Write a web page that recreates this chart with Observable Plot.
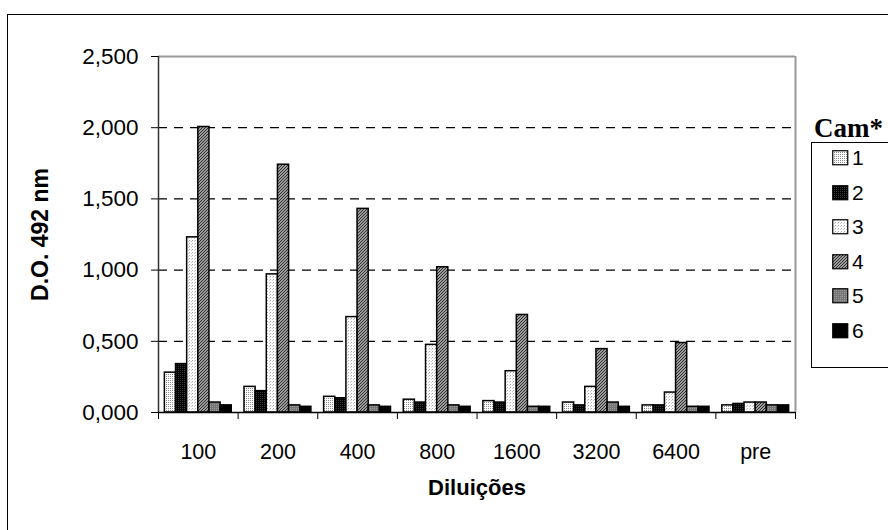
<!DOCTYPE html>
<html>
<head>
<meta charset="utf-8">
<script src="https://cdn.jsdelivr.net/npm/d3@7"></script>
<script src="https://cdn.jsdelivr.net/npm/@observablehq/plot@0.6"></script>
<style>
  html, body { margin: 0; padding: 0; background: #fff; overflow: hidden; }
  #wrap { position: relative; width: 888px; height: 530px; overflow: hidden; font-family: "Liberation Sans", Arial, sans-serif; }
  #border { position: absolute; left: 7px; top: 14px; width: 1000px; height: 1000px; border: 1.5px solid #000; box-sizing: border-box; }
  #chart { position: absolute; left: 0; top: 0; }
  #legendTitle { position: absolute; left: 814px; top: 113px; font-family: "Liberation Serif", "Times New Roman", serif; font-weight: bold; font-size: 27px; line-height: 30px; }
  #legend { position: absolute; left: 811px; top: 142px; width: 120px; height: 226px; border: 1.2px solid #000; background: #fff; box-sizing: border-box; }
  .item { position: absolute; left: 20px; height: 24px; display: flex; align-items: center; font-size: 21px; }
  .item svg { margin-right: 3px; }
</style>
</head>
<body>
<svg width="0" height="0" style="position:absolute">
  <defs>
    <pattern id="p1" width="2" height="2" patternUnits="userSpaceOnUse">
      <rect width="2" height="2" fill="#fff"/><rect width="1" height="1" fill="#8c8c8c"/>
    </pattern>
    <pattern id="p2" width="2" height="2" patternUnits="userSpaceOnUse">
      <rect width="2" height="2" fill="#000"/><rect width="1" height="1" fill="#3a3a3a"/>
    </pattern>
    <pattern id="p3" width="3" height="3" patternUnits="userSpaceOnUse">
      <rect width="3" height="3" fill="#fff"/><rect width="1" height="1" fill="#aaa"/><rect x="2" y="1" width="1" height="1" fill="#ccc"/>
    </pattern>
    <pattern id="p4" width="3" height="3" patternUnits="userSpaceOnUse">
      <rect width="3" height="3" fill="#c8c8c8"/><path d="M-1,1 L1,-1 M0,3 L3,0 M2,4 L4,2" stroke="#2a2a2a" stroke-width="1.1"/>
    </pattern>
    <pattern id="p5" width="2" height="2" patternUnits="userSpaceOnUse">
      <rect width="2" height="2" fill="#767676"/><rect width="1" height="1" fill="#9c9c9c"/>
    </pattern>
    <pattern id="p6" width="2" height="2" patternUnits="userSpaceOnUse">
      <rect width="2" height="2" fill="#000"/>
    </pattern>
  </defs>
</svg>
<div id="wrap">
  <div id="border"></div>
  <div id="chart"></div>
  <div id="legendTitle">Cam*</div>
  <div id="legend"></div>
</div>
<script>
// ---- data ----
const dilutions = ["100", "200", "400", "800", "1600", "3200", "6400", "pre"];
const cams = ["1", "2", "3", "4", "5", "6"];
const cam1 = [0.28, 0.18, 0.11, 0.09, 0.08, 0.07, 0.05, 0.05];
const cam2 = [0.34, 0.15, 0.10, 0.07, 0.07, 0.05, 0.05, 0.06];
const cam3 = [1.23, 0.97, 0.67, 0.475, 0.29, 0.18, 0.14, 0.07];
const cam4 = [2.005, 1.74, 1.43, 1.02, 0.685, 0.445, 0.488, 0.07];
const cam5 = [0.07, 0.05, 0.05, 0.05, 0.04, 0.07, 0.04, 0.05];
const cam6 = [0.05, 0.04, 0.04, 0.04, 0.04, 0.04, 0.04, 0.05];
const yTicks = [0, 0.5, 1.0, 1.5, 2.0, 2.5];
const patterns = ["url(#p1)", "url(#p2)", "url(#p3)", "url(#p4)", "url(#p5)", "url(#p6)"];

const seriesValues = [cam1, cam2, cam3, cam4, cam5, cam6];
const rows = [];
seriesValues.forEach((vals, j) => vals.forEach((v, i) => rows.push({dil: dilutions[i], i, cam: cams[j], j, value: v})));

// layout within each category band (bar width as fraction of the band)
const bw = 0.14;
const pad = (1 - cams.length * bw) / 2;

const fmt = d => d.toFixed(3).replace(".", ",");

const chart = Plot.plot({
  width: 888,
  height: 530,
  marginLeft: 158,
  marginRight: 93,
  marginTop: 56,
  marginBottom: 118,
  x: {domain: [0, dilutions.length]},
  y: {domain: [0, 2.5]},
  color: {type: "ordinal", domain: cams, range: patterns},
  style: {fontFamily: "'Liberation Sans', Arial, sans-serif", fontSize: "21px", color: "#000", background: "transparent", overflow: "visible"},
  marks: [
    Plot.gridY({ticks: [0.5, 1.0, 1.5, 2.0], stroke: "#000", strokeOpacity: 1, strokeWidth: 1.2, strokeDasharray: "9,7"}),
    Plot.ruleY([2.5], {stroke: "#9a9a9a", strokeWidth: 2}),
    Plot.ruleX([dilutions.length], {stroke: "#9a9a9a", strokeWidth: 2}),
    Plot.rectY(rows, {
      x1: d => d.i + pad + d.j * bw,
      x2: d => d.i + pad + (d.j + 1) * bw,
      y: "value",
      fill: "cam",
      stroke: "#000",
      strokeWidth: 1.5
    }),
    Plot.ruleX([0], {stroke: "#333", strokeWidth: 1.5}),
    Plot.ruleY([0], {stroke: "#000", strokeWidth: 1.5}),
    Plot.axisY({ticks: yTicks, tickFormat: fmt, tickSize: 7, tickPadding: 13, label: null, fontSize: 22.5, stroke: "#000"}),
    Plot.axisX({ticks: d3.range(0, dilutions.length + 1), tickFormat: () => "", tickSize: 7, label: null, stroke: "#000"}),
    Plot.axisX({ticks: dilutions.map((d, i) => i + 0.5), tickFormat: t => dilutions[Math.floor(t)], tickSize: 0, tickPadding: 31, label: null, fontSize: 21.5}),
    Plot.text(["D.O. 492 nm"], {text: d => d, frameAnchor: "left", dx: -118, rotate: -90, textAnchor: "middle", fontWeight: "bold", fontSize: 23}),
    Plot.text(["Diluições"], {text: d => d, frameAnchor: "bottom", dy: 82, textAnchor: "middle", fontWeight: "bold", fontSize: 22})
  ]
});
document.getElementById("chart").appendChild(chart);

// legend
const leg = document.getElementById("legend");
cams.forEach((c, k) => {
  const div = document.createElement("div");
  div.className = "item";
  div.style.top = (3 + k * 34.6) + "px";
  div.innerHTML = `<svg width="17" height="16"><rect x="0.75" y="0.75" width="15" height="14" fill="${patterns[k]}" stroke="#000" stroke-width="1.2"/></svg><span>${c}</span>`;
  leg.appendChild(div);
});
</script>
</body>
</html>
